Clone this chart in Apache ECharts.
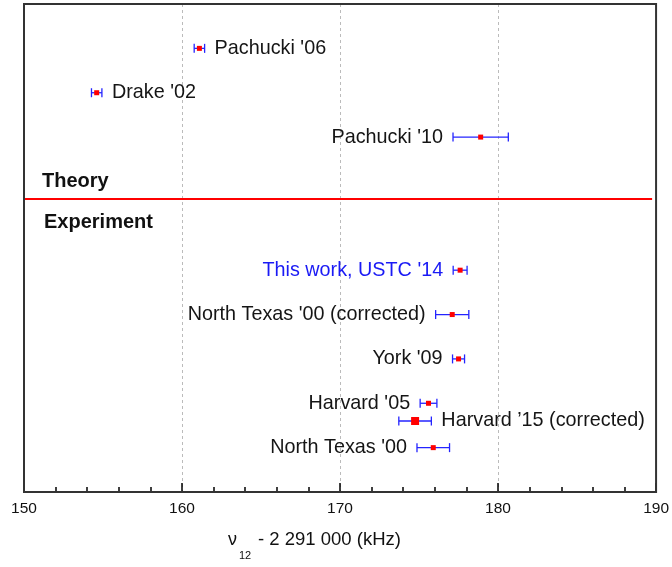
<!DOCTYPE html>
<html><head><meta charset="utf-8">
<script src="https://cdn.jsdelivr.net/npm/echarts@6/dist/echarts.min.js"></script>
<style>html,body{margin:0;padding:0;background:#fff}#c{width:672px;height:567px}</style>
</head><body><div id="c"></div>
<script>
// ---- data ----
const labels = ["Pachucki '06", "Drake '02", "Pachucki '10", "This work, USTC '14",
  "North Texas '00 (corrected)", "York '09", "Harvard '05", "Harvard \u201915 (corrected)", "North Texas '00"];
const values = [161.1, 154.6, 178.9, 177.6, 177.1, 177.5, 175.6, 174.75, 175.9];
const errors = [0.33, 0.33, 1.75, 0.44, 1.05, 0.38, 0.53, 1.03, 1.03];
const rows = [1, 2, 3, 6, 7, 8, 9, 9.4, 10];
const labelSide = ['right', 'right', 'left', 'left', 'left', 'left', 'left', 'right', 'left'];
const highlight = [false, false, false, true, false, false, false, false, false];
const bigMarker = [false, false, false, false, false, false, false, true, false];
const sectionNames = ['Theory', 'Experiment'];
const separatorRow = 4.38;
const xMin = 150, xMax = 190, xStep = 10;
const axisTitleMain = '- 2 291 000 (kHz)';

const FONT = '"Liberation Sans", Arial, sans-serif';
const chart = echarts.init(document.getElementById('c'), null, {renderer: 'canvas'});

function renderItem(params, api) {
  const i = params.dataIndex;
  const v = api.value(0), e = api.value(1), r = api.value(2);
  const c = api.coord([v, r]);
  const lo = api.coord([v - e, r]);
  const hi = api.coord([v + e, r]);
  const cap = 4.5;
  const ms = bigMarker[i] ? 8 : 5;
  const side = labelSide[i];
  const blue = '#2424ff';
  const ls = {stroke: blue, lineWidth: 1.3};
  return {
    type: 'group',
    children: [
      {type: 'line', shape: {x1: lo[0], y1: c[1], x2: hi[0], y2: c[1]}, style: ls},
      {type: 'line', shape: {x1: lo[0], y1: c[1] - cap, x2: lo[0], y2: c[1] + cap}, style: ls},
      {type: 'line', shape: {x1: hi[0], y1: c[1] - cap, x2: hi[0], y2: c[1] + cap}, style: ls},
      {type: 'rect', shape: {x: c[0] - ms / 2, y: c[1] - ms / 2, width: ms, height: ms}, style: {fill: '#ff0000'}},
      {type: 'text', x: side === 'right' ? hi[0] + 10 : lo[0] - 10, y: c[1],
        style: {text: labels[i], fill: highlight[i] ? '#1a1af5' : '#151515',
          font: '19.8px ' + FONT,
          align: side === 'right' ? 'left' : 'right', verticalAlign: 'middle'}}
    ]
  };
}

const option = {
  animation: false,
  backgroundColor: '#fff',
  grid: {left: 24, right: 15, top: 4, bottom: 75, show: true, borderColor: '#333', borderWidth: 2, z: 10},
  xAxis: {
    type: 'value', min: xMin, max: xMax, interval: xStep,
    axisLine: {onZero: false, lineStyle: {color: '#000', width: 2}},
    axisTick: {inside: true, length: 9, lineStyle: {color: '#000', width: 1.5}},
    minorTick: {show: true, splitNumber: 5, length: 5, lineStyle: {color: '#000', width: 1.5}},
    axisLabel: {fontSize: 15.5, color: '#111', margin: 9, fontFamily: FONT},
    splitLine: {show: true, showMinLine: false, showMaxLine: false, lineStyle: {color: '#bbb', type: [3, 3], width: 1}}
  },
  yAxis: {
    type: 'value', min: 0, max: 11, inverse: true,
    axisLine: {show: false}, axisTick: {show: false}, axisLabel: {show: false}, splitLine: {show: false}
  },
  series: [{
    type: 'custom',
    renderItem: renderItem,
    encode: {x: 0, y: 2},
    data: values.map((v, i) => [v, errors[i], rows[i]]),
    markLine: {
      silent: true, symbol: 'none', label: {show: false},
      lineStyle: {color: '#ff0000', width: 2, type: 'solid'},
      data: [[{coord: [xMin, separatorRow]}, {coord: [189.75, separatorRow]}]]
    }
  }],
  graphic: [
    {type: 'text', x: 42, y: 181, style: {text: sectionNames[0], font: 'bold 20px ' + FONT, fill: '#111', verticalAlign: 'middle'}},
    {type: 'text', x: 44, y: 222, style: {text: sectionNames[1], font: 'bold 20px ' + FONT, fill: '#111', verticalAlign: 'middle'}},
    {type: 'text', x: 228, y: 540, style: {text: '\u03bd', font: '18px ' + FONT, fill: '#111', verticalAlign: 'middle'}},
    {type: 'text', x: 239, y: 556, style: {text: '12', font: '11px ' + FONT, fill: '#111', verticalAlign: 'middle'}},
    {type: 'text', x: 258, y: 540, style: {text: axisTitleMain, font: '18.5px ' + FONT, fill: '#111', verticalAlign: 'middle'}}
  ]
};
chart.setOption(option);
</script>
</body></html>
